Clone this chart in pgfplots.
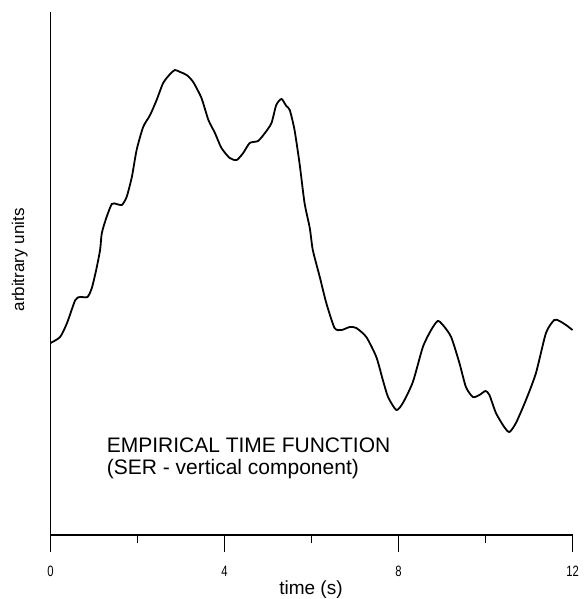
\documentclass[border=0pt]{standalone}
\usepackage{fontspec}
\setmainfont{Liberation Sans}
\usepackage{graphicx}
\usepackage{pgfplots}
\pgfplotsset{compat=1.18}
\newcommand{\tl}[1]{\fontsize{15}{17}\selectfont\scalebox{0.75}[1]{#1}}
\begin{document}
\begin{tikzpicture}
\begin{axis}[
  scale only axis, width=522pt, height=523pt,
  xmin=0, xmax=12, ymin=0, ymax=523,
  axis x line=bottom, axis y line=left,
  axis line style={-, line width=1.5pt},
  xtick={0,4,8,12}, minor xtick={2,6,10}, ytick=\empty,
  xticklabels={\tl{0},\tl{4},\tl{8},\tl{12}},
  xtick align=outside, major tick length=17pt, minor tick length=8pt,
  tick style={line width=1.2pt, black},
  xticklabel style={anchor=base, yshift=-24pt},
  xlabel={time (s)},
  xlabel style={font=\fontsize{19}{22}\selectfont, at={(axis description cs:0.499,0)}, anchor=base, yshift=-59pt},
  ylabel={arbitrary units},
  ylabel style={font=\fontsize{17}{20}\selectfont, at={(axis description cs:-0.059,0.526)}, anchor=center},
  clip=false,
]
\addplot[black, line width=1.8pt, smooth, tension=0.4] coordinates {
(0,192) (0.22,198) (0.38,212) (0.57,235) (0.68,238) (0.85,238) (0.95,247)
(1.05,265) (1.14,285) (1.18,302) (1.29,318) (1.41,331) (1.52,331) (1.64,330)
(1.75,338) (1.87,358) (1.98,385) (2.13,408) (2.29,420) (2.44,435) (2.59,452)
(2.75,461) (2.86,465) (2.98,463) (3.13,460) (3.28,453) (3.47,437) (3.63,415)
(3.78,402) (3.93,387) (4.12,377) (4.28,375) (4.43,382) (4.58,392) (4.77,394)
(4.93,402) (5.08,412) (5.19,430) (5.31,436) (5.42,429) (5.50,425) (5.61,405)
(5.73,370) (5.84,332) (5.96,307) (6.03,285) (6.19,258) (6.34,232) (6.53,207)
(6.69,205) (6.88,208) (7.03,207) (7.26,198) (7.49,178) (7.64,155) (7.76,138)
(7.95,125) (8.10,132) (8.33,153) (8.56,188) (8.75,205) (8.90,214) (9.02,210)
(9.21,198) (9.40,172) (9.55,148) (9.71,138) (9.86,140) (10.00,144) (10.09,140)
(10.24,122) (10.43,108) (10.55,103) (10.70,112) (10.93,135) (11.16,162)
(11.39,202) (11.58,215) (11.70,214) (11.85,210) (12.0,205)
};
\node[anchor=base west, font=\fontsize{21}{24}\selectfont, inner sep=0pt] at (axis cs:1.29,82) {EMPIRICAL TIME FUNCTION};
\node[anchor=base west, font=\fontsize{21}{24}\selectfont, inner sep=0pt] at (axis cs:1.29,60) {(SER - vertical component)};
\end{axis}
\pgfresetboundingbox
\path ([shift={(-50.5pt,-64pt)}]current axis.south west) rectangle ++(584pt,599pt);
\end{tikzpicture}
\end{document}
